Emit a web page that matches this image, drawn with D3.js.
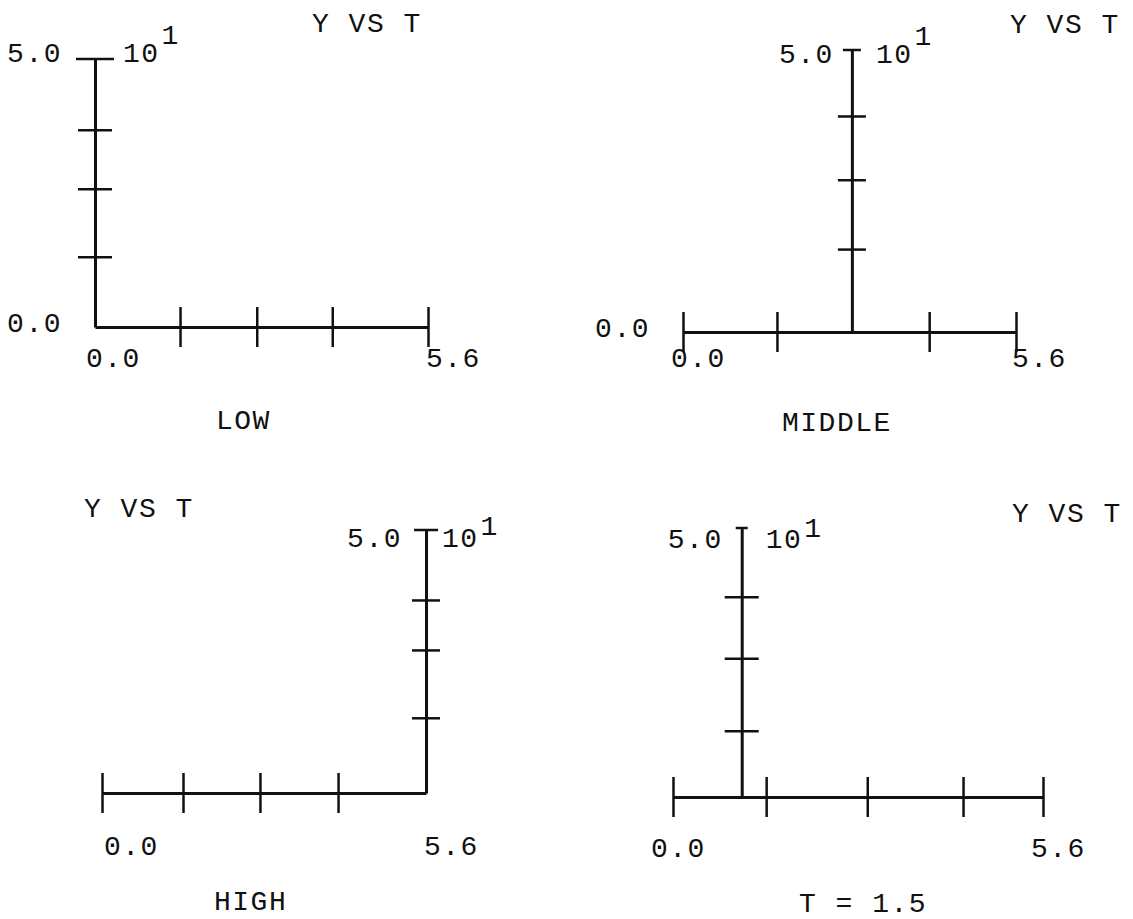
<!DOCTYPE html>
<html>
<head>
<meta charset="utf-8">
<script src="https://cdn.jsdelivr.net/npm/d3@7"></script>
<style>
    body { margin: 0; background: #fff; }
    text { font-family: "Liberation Mono", "Courier New", monospace; font-size: 28px; letter-spacing: 1.5px; fill: #111; }
    .domain { stroke: #111; stroke-width: 3; }
    .tick line { stroke: #111; stroke-width: 2.5; }
</style>
</head>
<body>
<div id="chart"></div>
<script>
// values
const xDomain = [0, 5.6];
const yDomain = [0, 50];
const titles = ["Y VS T", "Y VS T", "Y VS T", "Y VS T"];
const panelNames = ["LOW", "MIDDLE", "HIGH", "T = 1.5"];
const yAxisAt = [0, 2.84, 5.6, 1.04]; // T where the Y axis stands
const xTicks = [
    [1.43, 2.72, 3.99, 5.6],
    [0, 1.58, 4.14, 5.6],
    [0, 1.40, 2.73, 4.08],
    [0, 1.41, 2.94, 4.39, 5.6]
];
const yTicks = [
    [13.1, 25.8, 36.8],
    [14.7, 27.0, 38.3],
    [14.3, 27.2, 36.7],
    [12.3, 25.8, 37.2]
];
const xEndLabels = ["0.0", "5.6"];
const yEndLabels = ["0.0", "5.0"];
const showYZeroLabel = [true, true, false, false];
const scaleBase = "10";
const scaleExp = "1";

// where each panel sits on the page
const layout = [
    { x0: 95, x1: 428, yb: 327, yt: 59, yTick: 17, cap: 19, topDx: 33, topDy: 3, expDx: 28, supDy: -18, xlDy: 40, xl0Dx: -9, xl1Dx: -2, title: [312, 32], name: [216, 429] },
    { x0: 683, x1: 1016, yb: 332, yt: 50, yTick: 14, cap: 9, topDx: 18, topDy: 13, expDx: 24, supDy: -18, xlDy: 35, xl0Dx: -12, xl1Dx: -4, title: [1010, 33], name: [782, 431] },
    { x0: 102, x1: 426, yb: 793, yt: 530, yTick: 14, cap: 12, topDx: 24, topDy: 17, expDx: 16, supDy: -12, xlDy: 62, xl0Dx: 2, xl1Dx: -2, title: [84, 517], name: [214, 910] },
    { x0: 673, x1: 1043, yb: 797, yt: 528, yTick: 17, cap: 6, topDx: 19, topDy: 20, expDx: 24, supDy: -11, xlDy: 60, xl0Dx: -22, xl1Dx: -12, title: [1012, 522], name: [799, 912] }
];

const svg = d3.select("#chart").append("svg")
    .attr("width", 1133)
    .attr("height", 919);

layout.forEach((L, i) => {
    const x = d3.scaleLinear().domain(xDomain).range([L.x0, L.x1]);
    const y = d3.scaleLinear().domain(yDomain).range([L.yb, L.yt]);
    const g = svg.append("g");
    const ax = x(yAxisAt[i]);

    // T axis, ticks cross both sides
    const xg = g.append("g")
        .attr("transform", `translate(0,${L.yb})`)
        .call(d3.axisBottom(x).tickValues(xTicks[i]).tickSize(20).tickSizeOuter(0).tickFormat(""));
    xg.selectAll(".tick line").attr("y1", -20);

    // Y axis standing at yAxisAt
    const yg = g.append("g")
        .attr("transform", `translate(${ax},0)`)
        .call(d3.axisLeft(y).tickValues(yTicks[i]).tickSize(L.yTick).tickSizeOuter(0).tickFormat(""));
    yg.selectAll(".tick line").attr("x1", L.yTick);
    // cap at the top of the Y axis
    g.append("line")
        .attr("x1", ax - L.cap).attr("x2", ax + L.cap)
        .attr("y1", y(yDomain[1])).attr("y2", y(yDomain[1]))
        .attr("stroke", "#111").attr("stroke-width", 2.5);

    // end labels
    g.append("text")
        .attr("x", ax - L.topDx).attr("y", y(yDomain[1]) + L.topDy)
        .attr("text-anchor", "end")
        .text(yEndLabels[1]);
    const ex = g.append("text")
        .attr("x", ax + L.expDx).attr("y", y(yDomain[1]) + L.topDy);
    ex.append("tspan").text(scaleBase);
    ex.append("tspan").attr("dx", 2).attr("dy", L.supDy).text(scaleExp);

    if (showYZeroLabel[i]) {
        g.append("text")
            .attr("x", x(xDomain[0]) - 33).attr("y", y(yDomain[0]) + 5)
            .attr("text-anchor", "end")
            .text(yEndLabels[0]);
    }
    g.append("text")
        .attr("x", x(xDomain[0]) + L.xl0Dx).attr("y", L.yb + L.xlDy)
        .text(xEndLabels[0]);
    g.append("text")
        .attr("x", x(xDomain[1]) + L.xl1Dx).attr("y", L.yb + L.xlDy)
        .text(xEndLabels[1]);

    g.append("text").attr("x", L.title[0]).attr("y", L.title[1]).text(titles[i]);
    g.append("text").attr("x", L.name[0]).attr("y", L.name[1]).text(panelNames[i]);
});
</script>
</body>
</html>
